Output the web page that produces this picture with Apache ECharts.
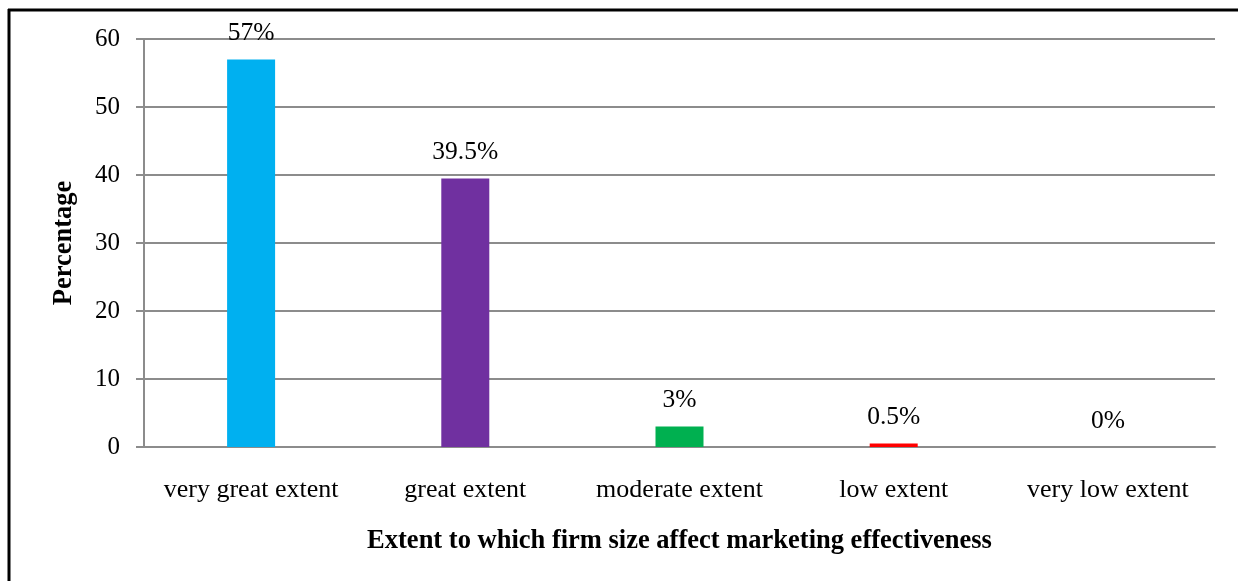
<!DOCTYPE html>
<html>
<head>
<meta charset="utf-8">
<script src="https://cdn.jsdelivr.net/npm/echarts@6/dist/echarts.min.js"></script>
<style>
html,body{margin:0;padding:0;background:#fff;}
#c{width:1238px;height:581px;}
</style>
</head>
<body>
<div id="c"></div>
<script>
const categories = ['very great extent','great extent','moderate extent','low extent','very low extent'];
const values = [57, 39.5, 3, 0.5, 0];
const valueLabels = ['57%','39.5%','3%','0.5%','0%'];
const barColors = ['#00B0F0','#7030A0','#00B050','#FF0000','#A0A0A0'];
const yTicks = [0,10,20,30,40,50,60];

const font = 'Liberation Serif';
const chart = echarts.init(document.getElementById('c'));
chart.setOption({
  backgroundColor:'#fff',
  animation:false,
  graphic:[
    {type:'line', shape:{x1:8,y1:10,x2:1238,y2:10}, style:{stroke:'#000',lineWidth:3}},
    {type:'line', shape:{x1:9,y1:9,x2:9,y2:581}, style:{stroke:'#000',lineWidth:3}}
  ],
  grid:{left:144, right:23, top:39, bottom:134, containLabel:false},
  xAxis:{
    type:'category',
    data:categories,
    name:'Extent to which firm size affect marketing effectiveness',
    nameLocation:'middle',
    nameGap:81,
    nameTextStyle:{fontFamily:font,fontSize:26.5,fontWeight:'bold',color:'#000'},
    axisLine:{lineStyle:{color:'#8C8C8C',width:2}},
    axisTick:{show:false},
    axisLabel:{fontFamily:font,fontSize:26,color:'#000',margin:30,interval:0}
  },
  yAxis:{
    type:'value',
    min:0,max:60,interval:10,
    name:'Percentage',
    nameLocation:'middle',
    nameGap:66,
    nameRotate:90,
    nameTextStyle:{fontFamily:font,fontSize:26.5,fontWeight:'bold',color:'#000'},
    axisLine:{show:true,lineStyle:{color:'#8C8C8C',width:2}},
    axisTick:{show:true,length:8,lineStyle:{color:'#8C8C8C',width:2}},
    axisLabel:{fontFamily:font,fontSize:25,color:'#000',margin:24,
      formatter:function(v){return yTicks.indexOf(v)>=0?String(v):'';}},
    splitLine:{show:true,lineStyle:{color:'#8C8C8C',width:2}}
  },
  series:[{
    type:'bar',
    barWidth:48,
    data:values.map((v,i)=>({value:v,itemStyle:{color:barColors[i]}})),
    label:{show:true,position:'top',distance:13,fontFamily:font,fontSize:25.5,color:'#000',
      formatter:function(p){return valueLabels[p.dataIndex];}}
  }]
});
</script>
</body>
</html>
